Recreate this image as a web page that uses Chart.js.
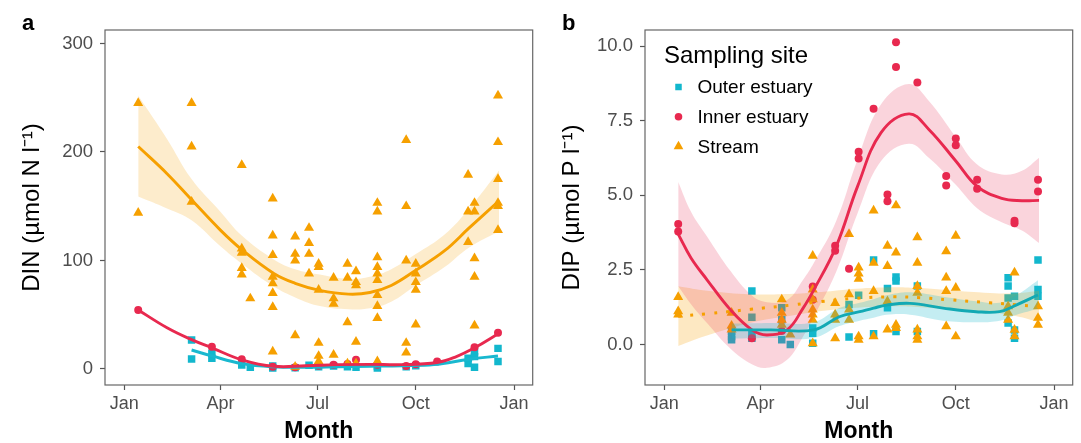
<!DOCTYPE html>
<html>
<head>
<meta charset="utf-8">
<script src="https://cdn.jsdelivr.net/npm/chart.js@4.4.1/dist/chart.umd.min.js"></script>
<style>
  body { margin: 0; background: #fff; }
  #wrap { position: relative; width: 1081px; height: 443px; }
  canvas { position: absolute; top: 0; }
</style>
</head>
<body>
<div id="wrap">
  <canvas id="din" width="540" height="443" style="left:0"></canvas>
  <canvas id="dip" width="541" height="443" style="left:540px"></canvas>
</div>
<script>
// day of year for the month ticks
const monthDays = [0, 90, 181, 273, 365];
const monthLabels = ['Jan', 'Apr', 'Jul', 'Oct', 'Jan'];

const siteNames = ['Outer estuary', 'Inner estuary', 'Stream'];

// ---- DIN samples [day, value]
const dinOuter = [[63,26.7],[63,9.2],[82,14.4],[82,9.8],[110,3.7],[118,1.5],[139,2.8],[139,1],[160,1.2],[173,3.5],[182,2],[196,2.8],[209,2],[217,1.5],[237,2.8],[237,1],[264,2],[273,3],[322,9.8],[322,5.1],[328,11.4],[328,1.5],[328,16],[350,19],[350,6.8]];
const dinInner = [[13,54.4],[82,20.6],[110,9],[139,2],[160,1.5],[182,3],[196,4],[209,4.5],[217,8.5],[237,4],[264,2.8],[273,4.3],[293,7],[328,20],[350,33.5]];
const dinStream = [[13,245],[13,144],[63,245],[63,205],[63,154],[110,188],[110,111],[110,107],[110,93],[110,87],[118,65],
  [139,157],[139,123],[139,105],[139,85],[139,79],[139,70],[139,57],[139,16],[160,122],[160,106],[160,100],[160,31],[160,2],
  [173,130],[173,116],[173,106],[173,88],[182,97],[182,94],[182,73],[182,24],[182,12],[182,7],[196,84],[196,65],[196,60],[196,13],
  [209,97],[209,84],[209,43],[209,5],[217,90],[217,80],[217,77],[217,25],[217,5],
  [237,153],[237,145],[237,103],[237,94],[237,88],[237,82],[237,68],[237,58],[237,47],[237,7],
  [264,211],[264,150],[264,100],[264,24],[264,15],[273,97],[273,88],[273,80],[273,73],[273,41],
  [322,179],[322,145],[322,117],[328,153],[328,145],[328,102],[328,85],[328,40],
  [350,252],[350,209],[350,175],[350,153],[350,150],[350,128]];

// DIN smoothers
const dinOuterFitDay = [63, 82, 110, 139, 170, 200, 230, 260, 290, 323, 350];
const dinOuterFit = [17.5, 12, 5, 2, 1.5, 2, 2.5, 3, 4, 9, 12];
const dinInnerFitDay = [13, 40, 63, 82, 110, 140, 170, 200, 230, 260, 293, 310, 328, 351];
const dinInnerFit = [54.4, 38, 27, 19.5, 8.5, 2.5, 3, 4, 4.3, 4, 6, 11, 19.5, 33];
const dinStreamFitDay = [13, 40, 63, 90, 110, 140, 160, 183, 210, 230, 250, 273, 300, 323, 351];
const dinStreamFit = [205, 180, 156, 128, 110, 88, 79, 72.5, 69, 70.5, 77, 91, 109, 130, 155];
const dinStreamLo = [159, 148, 137, 113, 97, 76, 66, 58, 55, 56, 62, 77, 94, 112, 127];
const dinStreamHi = [252, 212, 175, 145, 123, 101, 92, 87, 83, 85, 92, 106, 124, 148, 183];

// ---- DIP samples [day, value]
const dipOuter = [[63,0.16],[63,0.27],[63,0.44],[82,1.79],[82,0.91],[82,0.38],[82,0.21],[110,1.23],[110,0.83],[110,0.16],[118,0.0],
  [139,0.55],[139,0.38],[139,0.04],[173,1.34],[173,0.25],[182,1.65],[196,2.83],[196,0.36],[209,1.88],[209,1.23],
  [217,2.26],[217,2.13],[217,0.44],[237,1.96],[237,0.44],[322,2.24],[322,1.96],[322,1.56],[322,0.72],
  [328,1.62],[328,0.49],[328,0.21],[350,2.83],[350,1.84],[350,1.62]];
const dipInner = [[13,4.04],[13,3.79],[82,0.21],[110,0.45],[139,1.94],[139,1.5],[160,3.31],[160,3.14],[173,2.54],[182,6.46],[182,6.23],
  [196,7.9],[209,5.03],[209,4.8],[217,10.13],[217,9.3],[237,8.78],[264,5.65],[264,5.33],[273,6.9],[273,6.68],
  [293,5.52],[293,5.22],[328,4.15],[328,4.06],[350,5.52],[350,5.13]];
const dipStream = [[13,1.59],[13,1.11],[13,1.0],[63,1.06],[63,0.63],[63,0.5],[110,1.51],[110,1.06],[110,0.83],[110,0.66],[118,0.33],
  [139,2.97],[139,1.84],[139,1.51],[139,1.17],[139,1.0],[139,0.83],[139,0.04],[160,1.39],[160,1.0],[160,0.83],[160,0.21],
  [173,3.7],[173,1.68],[173,1.17],[173,0.83],[182,2.58],[182,2.38],[182,2.2],[182,0.27],[182,0.16],
  [196,4.49],[196,2.74],[196,1.79],[196,0.27],[209,3.31],[209,2.63],[209,1.45],[209,0.5],
  [217,4.66],[217,3.08],[217,0.66],[217,0.55],[237,3.59],[237,2.74],[237,1.96],[237,1.73],[237,0.5],[237,0.27],[237,0.16],
  [264,3.12],[264,2.24],[264,1.79],[264,0.61],[273,3.64],[273,1.9],[273,0.27],
  [322,1.28],[322,1.06],[322,0.83],[328,2.41],[328,0.49],[328,0.27],[350,1.28],[350,0.89],[350,0.66]];

// DIP smoothers
const dipOuterFitDay = [63, 100, 140, 164, 183, 196, 208, 230, 261, 292, 314, 330, 350];
const dipOuterFit = [0.49, 0.49, 0.49, 0.93, 1.1, 1.22, 1.32, 1.38, 1.22, 1.1, 1.1, 1.33, 1.66];
const dipOuterLo = [0.2, 0.22, 0.22, 0.62, 0.8, 0.9, 1.0, 1.0, 0.8, 0.75, 0.8, 1.0, 1.2];
const dipOuterHi = [0.7, 0.72, 0.75, 1.22, 1.4, 1.52, 1.65, 1.75, 1.6, 1.45, 1.4, 1.65, 2.15];
const dipInnerFitDay = [13, 25, 40, 62, 82, 96, 115, 130, 140, 161, 181, 203, 229, 248, 273, 293, 316, 335, 351];
const dipInnerFit = [3.7, 2.9, 2.17, 1.16, 0.49, 0.32, 0.49, 1.22, 1.83, 3.29, 5.3, 7.1, 7.73, 7.2, 6.15, 5.3, 4.9, 4.82, 4.83];
const dipInnerLo = [1.95, 1.35, 0.72, -0.14, -0.66, -0.78, -0.51, 0.27, 0.93, 2.44, 4.4, 6.15, 6.73, 6.25, 5.35, 4.57, 4.1, 3.82, 3.4];
const dipInnerHi = [5.45, 4.45, 3.62, 2.46, 1.64, 1.42, 1.49, 2.17, 2.73, 4.14, 6.2, 8.05, 8.73, 8.15, 6.95, 6.03, 5.7, 5.82, 6.26];
const dipStreamFitDay = [13, 40, 81, 121, 147, 180, 214, 240, 266, 305, 330, 351];
const dipStreamFit = [0.95, 1.03, 1.18, 1.33, 1.44, 1.55, 1.6, 1.57, 1.5, 1.4, 1.33, 1.27];
const dipStreamLo = [-0.05, 0.3, 0.73, 0.98, 1.12, 1.23, 1.28, 1.25, 1.18, 1.07, 0.95, 0.75];
const dipStreamHi = [1.95, 1.8, 1.68, 1.7, 1.76, 1.87, 1.92, 1.89, 1.82, 1.73, 1.72, 1.8];

const FONT = '"Liberation Sans", Arial, Helvetica, sans-serif';
Chart.defaults.font.family = FONT;

const cyan = '#12b7cd', red = '#e8294f', orange = '#f6a000';

function pts(pairs) { return pairs.map(p => ({x: p[0], y: p[1]})); }
function curve(days, vals) { return days.map((d, i) => ({x: d, y: vals[i]})); }

function fitLine(days, vals, color, extra) {
  return Object.assign({
    data: curve(days, vals), borderColor: color, borderWidth: 2.9,
    pointRadius: 0, tension: 0.4, fill: false, order: 1
  }, extra || {});
}
function bandEdge(days, vals, fill, color) {
  return {
    data: curve(days, vals), borderWidth: 0, pointRadius: 0, tension: 0.4,
    fill: fill, backgroundColor: color, order: 5
  };
}
function scatter(pairs, color, shape, r) {
  return {
    data: pts(pairs), showLine: false, pointStyle: shape, pointRadius: r,
    pointBackgroundColor: color, pointBorderWidth: 0, order: 10
  };
}

// box round the plot area plus the panel letter
const panelFrame = {
  id: 'panelFrame',
  afterDraw(chart, args, opts) {
    const {ctx, chartArea: a} = chart;
    ctx.save();
    ctx.strokeStyle = '#666';
    ctx.lineWidth = 1.2;
    ctx.strokeRect(a.left, a.top, a.right - a.left, a.bottom - a.top);
    ctx.fillStyle = '#000';
    ctx.font = 'bold 22px ' + FONT;
    ctx.textBaseline = 'alphabetic';
    ctx.fillText(opts.letter, 22, 30);
    ctx.restore();
  }
};

const siteLegend = {
  id: 'siteLegend',
  afterDraw(chart, args, opts) {
    if (!opts.show) return;
    const ctx = chart.ctx;
    const colors = [cyan, red, orange];
    const shapes = ['rect', 'circle', 'triangle'];
    const radii = [4.6, 3.8, 5.6];
    ctx.save();
    ctx.textBaseline = 'middle';
    ctx.fillStyle = '#000';
    ctx.font = '24px ' + FONT;
    ctx.fillText('Sampling site', 124, 56);
    ctx.font = '19px ' + FONT;
    siteNames.forEach((name, i) => {
      const y = 87 + i * 29.7;
      ctx.fillStyle = colors[i];
      ctx.strokeStyle = colors[i];
      Chart.helpers.drawPoint(ctx, {pointStyle: shapes[i], radius: radii[i], borderWidth: 0, rotation: 0}, 138.5, y);
      ctx.fillStyle = '#000';
      ctx.fillText(name, 157.5, y + 1);
    });
    ctx.restore();
  }
};

function makeScales(yMin, yMax, yTicks, yTitle, yFmt) {
  return {
    x: {
      type: 'linear', min: -18.1, max: 382.5,
      afterBuildTicks: s => { s.ticks = monthDays.map(v => ({value: v})); },
      afterFit: s => { s.height = 58; },
      ticks: {
        callback: (v, i) => monthLabels[i], color: '#4d4d4d',
        font: {size: 18}, padding: 3, maxRotation: 0, autoSkip: false
      },
      grid: { drawOnChartArea: false, tickLength: 5, tickColor: '#555', tickWidth: 1.2 },
      border: { display: false },
      title: { display: true, text: 'Month', color: '#000',
               font: {size: 23, weight: 'bold', lineHeight: 1}, padding: 0 }
    },
    y: {
      type: 'linear', min: yMin, max: yMax,
      afterBuildTicks: s => { s.ticks = yTicks.map(v => ({value: v})); },
      afterFit: s => { s.width = 105; },
      ticks: { callback: yFmt, color: '#4d4d4d', font: {size: 18.5}, padding: 7 },
      grid: { drawOnChartArea: false, tickLength: 5, tickColor: '#555', tickWidth: 1.2 },
      border: { display: false },
      title: { display: true, text: yTitle, color: '#000',
               font: {size: 24, lineHeight: 1}, padding: {top: 20, bottom: 0} }
    }
  };
}

function baseOptions(letter, legend, scales, rightPad) {
  return {
    responsive: false, animation: false, events: [],
    layout: { padding: {top: 30, right: rightPad, bottom: 0, left: 0} },
    scales: scales,
    plugins: {
      legend: { display: false }, tooltip: { enabled: false },
      panelFrame: { letter: letter }, siteLegend: { show: legend }
    }
  };
}

// panel a: DIN
new Chart(document.getElementById('din'), {
  type: 'line',
  data: {
    datasets: [
      fitLine(dinStreamFitDay, dinStreamFit, orange),
      fitLine(dinInnerFitDay, dinInnerFit, red),
      fitLine(dinOuterFitDay, dinOuterFit, '#19b8cf'),
      bandEdge(dinStreamFitDay, dinStreamLo, false, 'transparent'),
      bandEdge(dinStreamFitDay, dinStreamHi, 3, 'rgba(246,160,0,0.2)'),
      scatter(dinStream, orange, 'triangle', 5.8),
      scatter(dinInner, red, 'circle', 4),
      scatter(dinOuter, cyan, 'rect', 5.3)
    ]
  },
  options: baseOptions('a', false,
    makeScales(-14.75, 312.4, [0, 100, 200, 300], 'DIN (µmol N l⁻¹)', v => String(v)), 7.3),
  plugins: [panelFrame, siteLegend]
});

// panel b: DIP
new Chart(document.getElementById('dip'), {
  type: 'line',
  data: {
    datasets: [
      fitLine(dipOuterFitDay, dipOuterFit, '#12a9b4'),
      fitLine(dipInnerFitDay, dipInnerFit, red),
      fitLine(dipStreamFitDay, dipStreamFit, orange, {borderDash: [3, 9], borderWidth: 3}),
      bandEdge(dipOuterFitDay, dipOuterLo, false, 'transparent'),
      bandEdge(dipOuterFitDay, dipOuterHi, 3, 'rgba(18,183,205,0.25)'),
      bandEdge(dipInnerFitDay, dipInnerLo, false, 'transparent'),
      bandEdge(dipInnerFitDay, dipInnerHi, 5, 'rgba(232,41,79,0.2)'),
      bandEdge(dipStreamFitDay, dipStreamLo, false, 'transparent'),
      bandEdge(dipStreamFitDay, dipStreamHi, 7, 'rgba(246,160,0,0.24)'),
      scatter(dipStream, orange, 'triangle', 5.8),
      scatter(dipInner, red, 'circle', 4),
      scatter(dipOuter, cyan, 'rect', 5.3)
    ]
  },
  options: baseOptions('b', true,
    makeScales(-1.357, 10.54, [0, 2.5, 5, 7.5, 10], 'DIP (µmol P l⁻¹)', v => v.toFixed(1)), 8.3),
  plugins: [panelFrame, siteLegend]
});
</script>
</body>
</html>
